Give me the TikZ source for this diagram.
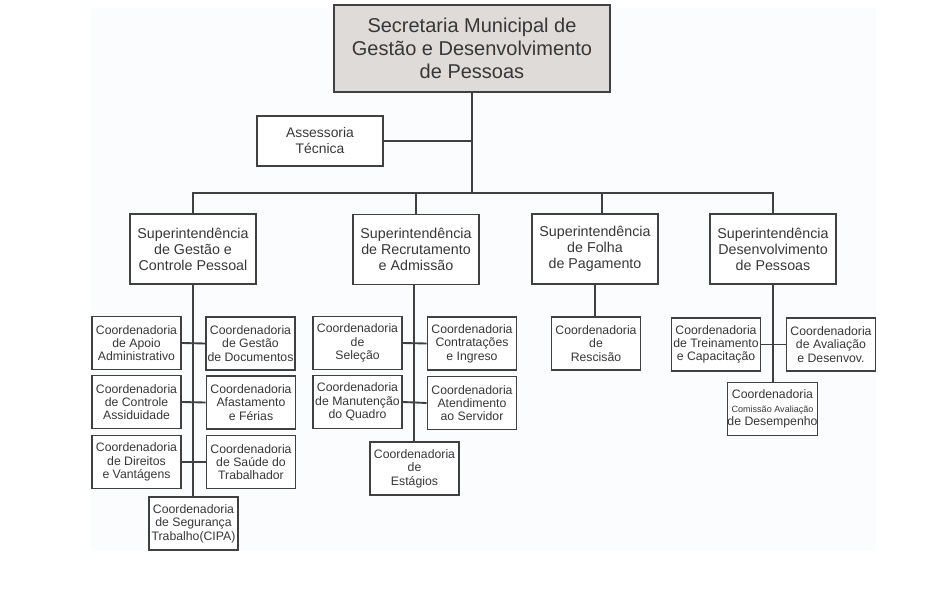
\documentclass[tikz,border=0pt]{standalone}
\usepackage{fontspec}
\setmainfont{Liberation Sans}
\usepackage{tikz}

\definecolor{boxline}{RGB}{64,64,64}
\definecolor{boxtext}{RGB}{55,55,55}
\definecolor{headfill}{RGB}{222,219,216}
\definecolor{papertint}{RGB}{250,252,253}

\begin{document}
\begin{tikzpicture}[x=0.75pt, y=-0.75pt, line width=1.4pt, draw=boxline,
  orgbox/.style={draw=boxline, text=boxtext, inner sep=0pt, align=center},
  headbox/.style={orgbox, fill=headfill, minimum width=207pt, minimum height=65pt,
    font=\fontsize{15}{17.5}\selectfont},
  staffbox/.style={orgbox, fill=white, minimum width=94.5pt, minimum height=37.5pt,
    font=\fontsize{10.4}{12}\selectfont},
  supbox/.style={orgbox, fill=white, minimum width=94.5pt, minimum height=52.5pt,
    font=\fontsize{10.7}{12}\selectfont},
  coordbox/.style={orgbox, fill=white, minimum width=66.75pt, minimum height=39.75pt,
    font=\fontsize{9.2}{10}\selectfont}]
\useasboundingbox (0,0) rectangle (940,610);
\fill [papertint] (91,8) rectangle (876,551);
%
\node [headbox] (sec) at (472,48.5) {Secretaria Municipal de\\Gestão e Desenvolvimento\\de Pessoas};
\node [staffbox] (asses) at (320,141) {Assessoria\\Técnica};
\coordinate (bus) at (472,193);
%
\node [supbox] (sup1) at (193,249) {Superintendência\\de Gestão e\\Controle Pessoal};
\node [supbox] (sup2) at (416,249.5) {Superintendência\\de Recrutamento\\e Admissão};
\node [supbox] (sup3) at (595,249) {Superintendência\\de Folha\\de Pagamento};
\node [supbox] (sup4) at (773,249) {Superintendência\\Desenvolvimento\\de Pessoas};
%
\node [coordbox] (apoio) at (136.5,343) {Coordenadoria\\de Apoio\\Administrativo};
\node [coordbox] (gdoc) at (250.5,343.5) {Coordenadoria\\de Gestão\\de Documentos};
\node [coordbox] (contr) at (136.5,402) {Coordenadoria\\de Controle\\Assiduidade};
\node [coordbox] (afast) at (251,402.5) {Coordenadoria\\Afastamento\\e Férias};
\node [coordbox] (direi) at (136.5,462) {Coordenadoria\\de Direitos\\e Vantágens};
\node [coordbox] (saude) at (251,462) {Coordenadoria\\de Saúde do\\Trabalhador};
\node [coordbox] (segur) at (193.5,523.5) {Coordenadoria\\de Segurança\\Trabalho(CIPA)};
%
\node [coordbox] (selec) at (357.5,343) {Coordenadoria\\de\\Seleção};
\node [coordbox] (contrat) at (472,343.5) {Coordenadoria\\Contratações\\e Ingreso};
\node [coordbox] (manut) at (357.5,402) {Coordenadoria\\de Manutenção\\do Quadro};
\node [coordbox] (atend) at (472,403) {Coordenadoria\\Atendimento\\ao Servidor};
\node [coordbox] (estag) at (414.5,468.5) {Coordenadoria\\de\\Estágios};
%
\node [coordbox] (resc) at (596,343.5) {Coordenadoria\\de\\Rescisão};
%
\node [coordbox] (trein) at (716,344.5) {Coordenadoria\\de Treinamento\\e Capacitação};
\node [coordbox] (aval) at (831,344.5) {Coordenadoria\\de Avaliação\\e Desenvov.};
\node [coordbox] (desemp) at (772.5,409) {Coordenadoria\\{\fontsize{6.8}{8}\selectfont Comissão Avaliação}\\de Desempenho};
%
\draw (sec.south) -- (bus);
\draw (asses.east) -- (asses.east -| bus);
\draw (sup1.north) -- (sup1.north |- bus) -- (sup4.north |- bus) -- (sup4.north);
\draw (sup2.north) -- (sup2.north |- bus);
\draw ([xshift=5pt]sup3.north) -- ([xshift=5pt]sup3.north |- bus);
%
\draw (sup1.south) -- (sup1.south |- segur.north);
\draw (apoio.east) -- (gdoc.west);
\draw (contr.east) -- (afast.west);
\draw (direi.east) -- (saude.west);
%
\draw ([xshift=-1.5pt]sup2.south) -- ([xshift=-1.5pt]sup2.south |- estag.north);
\draw (selec.east) -- (contrat.west);
\draw (manut.east) -- (atend.west);
%
\draw (sup3.south) -- (sup3.south |- resc.north);
%
\draw (sup4.south) -- (sup4.south |- desemp.north);
\draw (trein.east) -- (aval.west);
%%%%%%%%%%%%%%%%%%%%%%%%%%%%%%%
\end{tikzpicture}
\end{document}
